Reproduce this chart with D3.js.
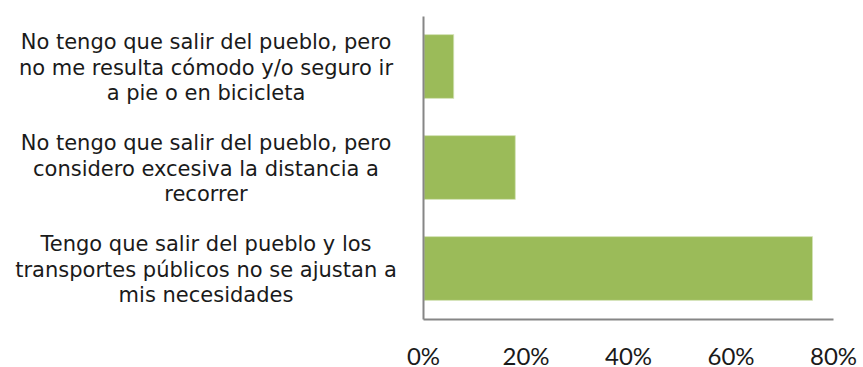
<!DOCTYPE html>
<html>
<head>
<meta charset="utf-8">
<script src="https://cdn.jsdelivr.net/npm/d3@7"></script>
<style>
  html, body { margin: 0; padding: 0; background: #fff; }
  svg { display: block; }
</style>
</head>
<body>
<svg id="chart" width="863" height="367"></svg>
<script>
// Survey answers (line breaks mark where each label wraps)
const categories = [
  "No tengo que salir del pueblo, pero\nno me resulta cómodo y/o seguro ir\na pie o en bicicleta",
  "No tengo que salir del pueblo, pero\nconsidero excesiva la distancia a\nrecorrer",
  "Tengo que salir del pueblo y los\ntransportes públicos no se ajustan a\nmis necesidades"
];
const shares = [0.06, 0.18, 0.76];
const xTicks = [0, 0.2, 0.4, 0.6, 0.8];

const svg = d3.select("#chart");
const plot = { left: 423, right: 833, top: 16, bottom: 319 };

const x = d3.scaleLinear().domain([0, 0.8]).range([plot.left, plot.right]);
const y = d3.scaleBand()
  .domain(categories)
  .range([plot.top, plot.bottom])
  .paddingInner(0.37)
  .paddingOuter(0.185);

// Bars
svg.append("g")
  .selectAll("rect")
  .data(categories)
  .join("rect")
  .attr("x", x(0) + 1)
  .attr("y", d => y(d))
  .attr("width", (d, i) => x(shares[i]) - x(0) - 1)
  .attr("height", y.bandwidth())
  .attr("fill", "#9bbb59")
  .attr("stroke", "#d3e2b6")
  .attr("stroke-width", 0.8);

// Horizontal axis: percentage labels, no tick marks
const xAxis = svg.append("g")
  .attr("transform", `translate(0,${plot.bottom})`)
  .call(d3.axisBottom(x).tickValues(xTicks).tickFormat(d3.format(".0%")).tickSize(0).tickSizeOuter(0));
xAxis.select(".domain").attr("stroke", "#868686").attr("stroke-width", 2);
xAxis.selectAll("text")
  .attr("y", 46)
  .attr("dy", 0)
  .attr("fill", "#1a1a1a")
  .style("font-family", "Lato, 'Open Sans', sans-serif")
  .style("font-size", "24px");

// Vertical axis with wrapped, centred category labels
const yAxis = svg.append("g")
  .attr("transform", `translate(${plot.left},0)`)
  .call(d3.axisLeft(y).tickSize(0).tickSizeOuter(0));
yAxis.select(".domain").attr("stroke", "#868686").attr("stroke-width", 2);

const labelCenter = -217;
const lineGap = 25.3;
yAxis.selectAll(".tick text")
  .attr("x", labelCenter)
  .attr("dy", 0)
  .attr("text-anchor", "middle")
  .attr("fill", "#1a1a1a")
  .style("font-family", "Verdana, 'DejaVu Sans', sans-serif")
  .style("font-size", "21px")
  .each(function (d) {
    const lines = d.split("\n");
    const t = d3.select(this).text(null);
    const first = 8 - lineGap * (lines.length - 1) / 2;
    lines.forEach((ln, i) => {
      t.append("tspan")
        .attr("x", labelCenter)
        .attr("y", first + i * lineGap)
        .text(ln);
    });
  });
</script>
</body>
</html>
